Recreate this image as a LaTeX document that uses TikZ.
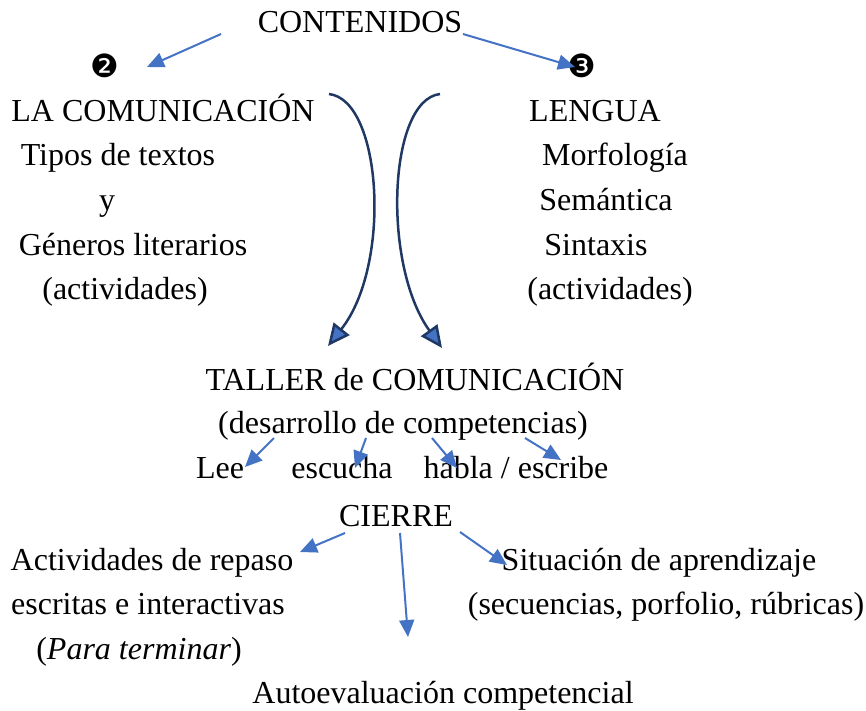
\documentclass[tikz,border=0pt]{standalone}
\usepackage{fontspec}
\setmainfont{Liberation Serif}
\newfontfamily\djv{DejaVu Sans}
\usetikzlibrary{arrows.meta}
\definecolor{arrblue}{HTML}{4472C4}
\definecolor{navy}{HTML}{1F3864}
\begin{document}
\begin{tikzpicture}[x=1pt,y=-1pt,
  txt/.style={font=\fontsize{32}{38}\selectfont, inner sep=0pt, anchor=base},
  num/.style={font=\djv\fontsize{32}{38}\selectfont, inner sep=0pt},
  conn/.style={draw=arrblue, line width=2pt, -{Triangle[length=17pt,width=15pt]}},
  curv/.style={draw=navy, line width=2.5pt, -{Triangle[length=22pt,width=20pt,fill=arrblue]}}]
\useasboundingbox (0,0) rectangle (866,710);
% top
\node[txt] (cont) at (360,32) {CONTENIDOS};
\node[num] (n2) at (105,66) {❷};
\node[num] (n3) at (582,66) {❸};
% left column
\node[txt] (com) at (163,121) {LA COMUNICACIÓN};
\node[txt] (tipos) at (118,165) {Tipos de textos};
\node[txt] (y) at (107,210) {y};
\node[txt] (gen) at (133,255) {Géneros literarios};
\node[txt] (act1) at (125,299) {(actividades)};
% right column
\node[txt] (len) at (595,121) {LENGUA};
\node[txt] (morf) at (615,165) {Morfología};
\node[txt] (sem) at (606,210) {Semántica};
\node[txt] (sint) at (596,255) {Sintaxis};
\node[txt] (act2) at (610,299) {(actividades)};
% taller
\node[txt] (taller) at (415,390) {TALLER de COMUNICACIÓN};
\node[txt] (desa) at (403,433) {(desarrollo de competencias)};
\node[txt] (lee) at (220,478) {Lee};
\node[txt] (esc) at (342,478) {escucha};
\node[txt] (hab) at (516,478) {habla / escribe};
% cierre
\node[txt] (cierre) at (396,526) {CIERRE};
\node[txt] (rep1) at (152,570) {Actividades de repaso};
\node[txt] (rep2) at (148,614) {escritas e interactivas};
\node[txt] (rep3) at (139,659) {(\textit{Para terminar})};
\node[txt] (sit1) at (659,570) {Situación de aprendizaje};
\node[txt] (sit2) at (666,614) {(secuencias, porfolio, rúbricas)};
\node[txt] (auto) at (443,703) {Autoevaluación competencial};
% coordinates
\coordinate (c1s) at (221,34); \coordinate (c1e) at (147,67);
\coordinate (c2s) at (463,34); \coordinate (c2e) at (575,67);
\coordinate (l1s) at (329,94); \coordinate (l1e) at (328,346);
\coordinate (r1s) at (440,94); \coordinate (r1e) at (442,348);
\coordinate (d1s) at (274,438); \coordinate (d1e) at (245,467);
\coordinate (d2s) at (366,438); \coordinate (d2e) at (355,468);
\coordinate (d3s) at (432,438); \coordinate (d3e) at (457,468);
\coordinate (d4s) at (525,438); \coordinate (d4e) at (561,460);
\coordinate (e1s) at (345,533); \coordinate (e1e) at (300,552);
\coordinate (e2s) at (400,533); \coordinate (e2e) at (408,637);
\coordinate (e3s) at (460,532); \coordinate (e3e) at (507,565);
% arrows
\draw[conn] (c1s) -- (c1e);
\draw[conn] (c2s) -- (c2e);
\draw[curv] (l1s) .. controls (382,100) and (392,265) .. (l1e);
\draw[curv] (r1s) .. controls (388,100) and (382,265) .. (r1e);
\draw[conn] (d1s) -- (d1e);
\draw[conn] (d2s) -- (d2e);
\draw[conn] (d3s) -- (d3e);
\draw[conn] (d4s) -- (d4e);
\draw[conn] (e1s) -- (e1e);
\draw[conn] (e2s) -- (e2e);
\draw[conn] (e3s) -- (e3e);
\end{tikzpicture}
\end{document}
